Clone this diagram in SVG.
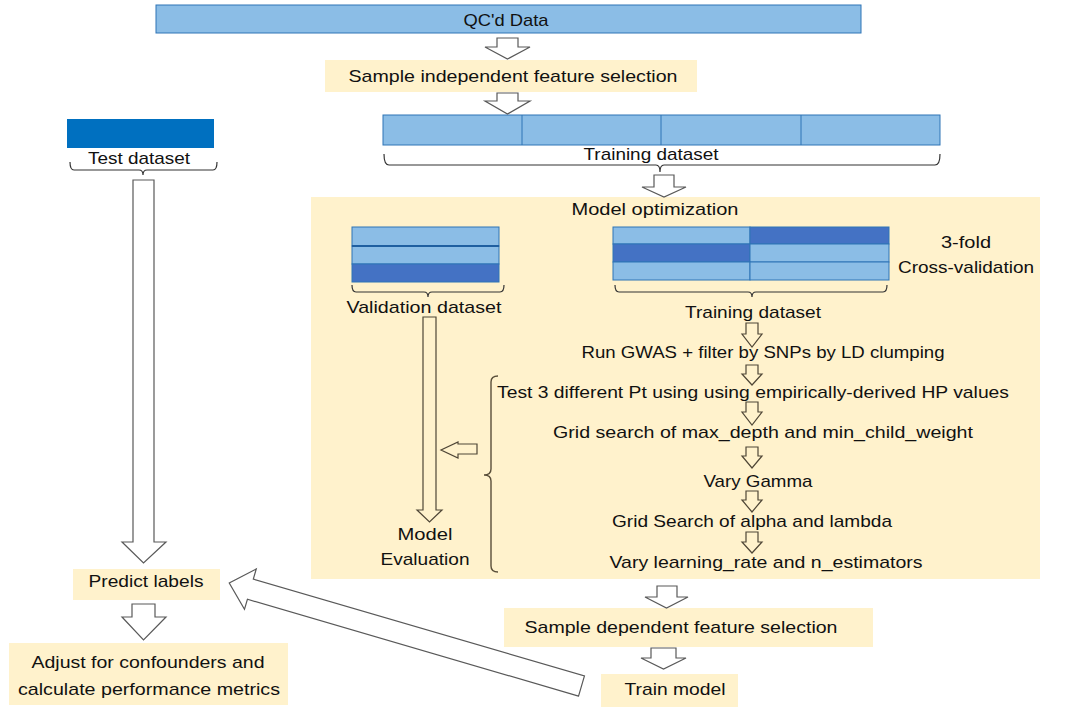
<svg xmlns="http://www.w3.org/2000/svg" width="1069" height="720" viewBox="0 0 1069 720">
<style>
text{font-family:"Liberation Sans",Arial,sans-serif;font-size:17px;fill:#111;text-anchor:middle}
.lb{fill:#8BBDE6;stroke:#2E75B6;stroke-width:1}
.db{fill:#4472C4;stroke:#2E75B6;stroke-width:1}
.yb{fill:#FFF2CC}
.ar{fill:#fff;stroke:#595959;stroke-width:1.2}
.ay{fill:#FFF2CC;stroke:#4f4636;stroke-width:1.2}
.br{fill:none;stroke:#333;stroke-width:1.2}
.bb{fill:none;stroke:#5a4f3a;stroke-width:1.4}
</style>
<rect width="1069" height="720" fill="#fff"/>

<g id="qc-data">
<rect class="lb" x="156" y="5" width="705" height="28"/>
<text x="506" y="26" textLength="85" lengthAdjust="spacingAndGlyphs">QC'd Data</text>
</g>

<g id="sample-independent">
<rect class="yb" x="325" y="60" width="372" height="32"/>
<text x="513" y="82" textLength="329" lengthAdjust="spacingAndGlyphs">Sample independent feature selection</text>
</g>

<g id="training-dataset">
<rect class="lb" x="383" y="115" width="557" height="30"/>
<line x1="522" y1="115" x2="522" y2="145" stroke="#2E75B6"/>
<line x1="661" y1="115" x2="661" y2="145" stroke="#2E75B6"/>
<line x1="801" y1="115" x2="801" y2="145" stroke="#2E75B6"/>
<path class="br" d="M384 154 Q384 165 389 165 H656 Q660 165 660 172 Q660 165 664 165 H935 Q940 165 940 154"/>
<text x="651" y="160" textLength="135" lengthAdjust="spacingAndGlyphs">Training dataset</text>
</g>

<g id="test-dataset">
<rect x="67" y="119" width="147" height="29" fill="#0070C0"/>
<path class="br" d="M70 162 Q70 170 74 170 H139 Q143 170 143 175 Q143 170 147 170 H213 Q217 170 217 162"/>
<text x="139" y="164" textLength="102" lengthAdjust="spacingAndGlyphs">Test dataset</text>
</g>

<g id="model-optimization">
<rect class="yb" x="311" y="197" width="729" height="382"/>
<text x="655" y="215" textLength="167" lengthAdjust="spacingAndGlyphs">Model optimization</text>
</g>

<g id="validation-dataset">
<rect class="lb" x="352" y="227" width="147" height="19"/>
<rect class="lb" x="352" y="246" width="147" height="18"/>
<rect class="db" x="352" y="264" width="147" height="18"/>
<line x1="352" y1="246" x2="499" y2="246" stroke="#1F5FA0" stroke-width="2"/>
<path class="br" d="M352 285 Q352 292 356 292 H424 Q428 292 428 297 Q428 292 432 292 H500 Q504 292 504 285"/>
<text x="424" y="313" textLength="155" lengthAdjust="spacingAndGlyphs">Validation dataset</text>
</g>

<g id="cross-validation">
<rect class="lb" x="613" y="227" width="137" height="17"/>
<rect class="db" x="750" y="227" width="139" height="17"/>
<rect class="db" x="613" y="244" width="137" height="18"/>
<rect class="lb" x="750" y="244" width="139" height="18"/>
<rect class="lb" x="613" y="262" width="137" height="18"/>
<rect class="lb" x="750" y="262" width="139" height="18"/>
<path class="br" d="M615 285 Q615 292 619 292 H748 Q752 292 752 297 Q752 292 756 292 H883 Q887 292 887 285"/>
<text x="966" y="248" textLength="50" lengthAdjust="spacingAndGlyphs">3-fold</text>
<text x="966" y="273" textLength="136" lengthAdjust="spacingAndGlyphs">Cross-validation</text>
<text x="753" y="318" textLength="136" lengthAdjust="spacingAndGlyphs">Training dataset</text>
</g>

<g id="steps">
<text x="763" y="358" textLength="363" lengthAdjust="spacingAndGlyphs">Run GWAS + filter by SNPs by LD clumping</text>
<text x="753" y="398" textLength="512" lengthAdjust="spacingAndGlyphs">Test 3 different Pt using using empirically-derived HP values</text>
<text x="763" y="438" textLength="420" lengthAdjust="spacingAndGlyphs">Grid search of max_depth and min_child_weight</text>
<text x="758" y="487" textLength="109" lengthAdjust="spacingAndGlyphs">Vary Gamma</text>
<text x="752" y="527" textLength="280" lengthAdjust="spacingAndGlyphs">Grid Search of alpha and lambda</text>
<text x="766" y="568" textLength="313" lengthAdjust="spacingAndGlyphs">Vary learning_rate and n_estimators</text>
<path class="bb" d="M498 376 Q491 376 491 382 V469 Q491 475 484 475 Q491 475 491 481 V566 Q491 572 498 572"/>
</g>

<g id="model-evaluation">
<text x="425" y="540" textLength="55" lengthAdjust="spacingAndGlyphs">Model</text>
<text x="425" y="565" textLength="89" lengthAdjust="spacingAndGlyphs">Evaluation</text>
</g>

<g id="predict-labels">
<rect class="yb" x="73" y="569" width="147" height="31"/>
<text x="146" y="587" textLength="115" lengthAdjust="spacingAndGlyphs">Predict labels</text>
</g>

<g id="adjust-confounders">
<rect class="yb" x="9" y="643" width="279" height="62"/>
<text x="148" y="668" textLength="233" lengthAdjust="spacingAndGlyphs">Adjust for confounders and</text>
<text x="149" y="695" textLength="262" lengthAdjust="spacingAndGlyphs">calculate performance metrics</text>
</g>

<g id="sample-dependent">
<rect class="yb" x="504" y="608" width="369" height="39"/>
<text x="681" y="633" textLength="313" lengthAdjust="spacingAndGlyphs">Sample dependent feature selection</text>
</g>

<g id="train-model">
<rect class="yb" x="601" y="674" width="137" height="33"/>
<text x="675" y="695" textLength="101" lengthAdjust="spacingAndGlyphs">Train model</text>
</g>

<g id="connectors">
<polygon class="ar" points="497,38 518,38 518,47 530,47 507.5,59 485,47 497,47"/>
<polygon class="ar" points="497,93 518,93 518,101 530,101 507.5,114 485,101 497,101"/>
<polygon class="ar" points="654,175 674,175 674,187 686,187 664,197 642,187 654,187"/>
<polygon class="ay" points="746,323 758,323 758,334 762,334 752,347 742,334 746,334"/>
<polygon class="ay" points="746,365 758,365 758,374 762,374 752,385 742,374 746,374"/>
<polygon class="ay" points="746,402 758,402 758,412 762,412 752,425 742,412 746,412"/>
<polygon class="ay" points="746,447 758,447 758,456 762,456 752,468 742,456 746,456"/>
<polygon class="ay" points="746,491 758,491 758,500 762,500 752,512 742,500 746,500"/>
<polygon class="ay" points="746,532 758,532 758,542 762,542 752,553 742,542 746,542"/>
<polygon class="ay" points="423,317 436,317 436,510 442,510 429.5,522 417,510 423,510"/>
<polygon class="ay" points="477,444 458,444 458,442 441,450 458,458 458,454 477,454"/>
<polygon class="ar" points="133,180 154,180 154,542 166,542 143.5,563 122,542 133,542"/>
<polygon class="ar" points="132,604 155,604 155,617 166,617 143.5,640 122,617 132,617"/>
<polygon class="ar" points="657,586 677,586 677,597 688,597 666.5,608 645,597 657,597"/>
<polygon class="ar" points="651,648 676,648 676,658 686,658 663.5,669 641,658 651,658"/>
<polygon class="ar" transform="translate(581.5,686) rotate(196.3)" points="0,-10.5 345,-10.5 345,-21 367,0 345,21 345,10.5 0,10.5"/>
</g>
</svg>
